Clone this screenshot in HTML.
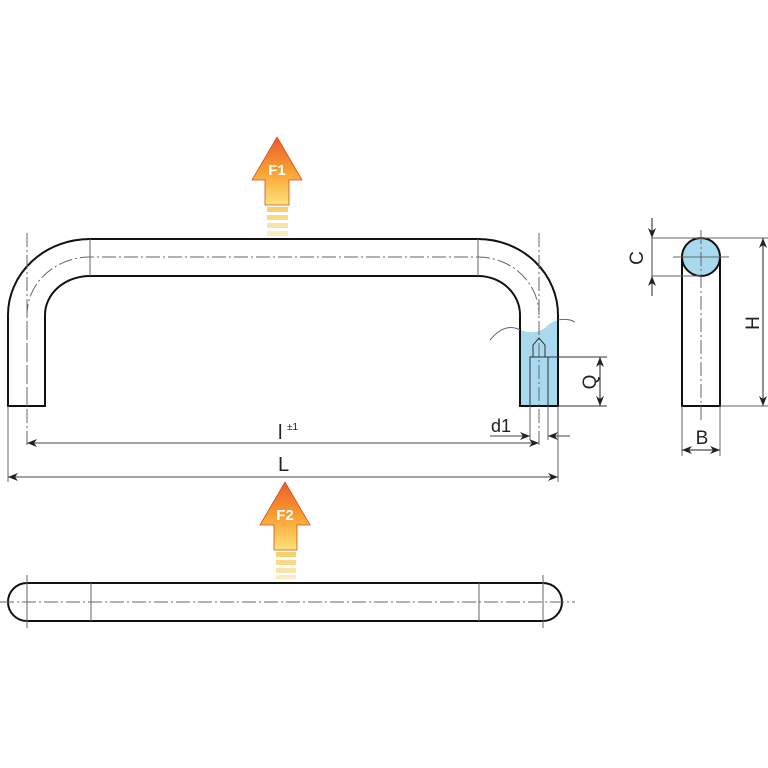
<!DOCTYPE html>
<html><head><style>body{margin:0;background:#fff}svg{display:block}text{font-family:"Liberation Sans",sans-serif;fill:#222}</style></head><body>
<svg width="768" height="768" viewBox="0 0 768 768" xmlns="http://www.w3.org/2000/svg">
<defs>
<linearGradient id="g" x1="0" y1="0" x2="0" y2="1">
<stop offset="0" stop-color="#ec5a2c"/><stop offset="0.5" stop-color="#f8a030"/><stop offset="1" stop-color="#fde27a"/></linearGradient>
<marker id="a" markerWidth="10" markerHeight="8" refX="10" refY="4" orient="auto-start-reverse" markerUnits="userSpaceOnUse"><path d="M0,0 L10,4 L0,8 L3,4z" fill="#222"/></marker>
</defs>
<path d="M520,330 Q535,335 545,328 Q550,322 558,320 L558,406 L520,406Z" fill="#a9d9ef"/>
<g fill="none" stroke="#111" stroke-width="2">
<path d="M8,406 L8,315 A82,76 0 0 1 90,239 L478,239 A80,76 0 0 1 558,315 L558,406 L520,406 L520,315 A42,39 0 0 0 478,276 L90,276 A45,39 0 0 0 45,315 L45,406 Z"/>
</g>
<g fill="none" stroke="#666" stroke-width="1">
<path d="M27,406 L27,315 A63,58 0 0 1 90,257 L478,257 A61,58 0 0 1 539,315" stroke-dasharray="14,3,2,3"/>
<line x1="27" y1="233" x2="27" y2="447" stroke-dasharray="14,3,2,3"/>
<line x1="539" y1="233" x2="539" y2="447" stroke-dasharray="14,3,2,3"/>
<line x1="90" y1="239" x2="90" y2="276"/><line x1="478" y1="239" x2="478" y2="276"/>
<line x1="8" y1="406" x2="8" y2="482"/><line x1="558" y1="406" x2="558" y2="482"/>
<line x1="530" y1="406" x2="530" y2="440"/><line x1="548" y1="406" x2="548" y2="440"/>
<path d="M490,340 Q505,322 520,330 M558,320 Q568,318 575,322"/>
</g>
<g fill="none" stroke="#333" stroke-width="1">
<path d="M530,406 L530,357 L548,357 L548,406"/>
<path d="M533,357 L533,345 L539,338 L545,345 L545,357"/>
<line x1="548" y1="357" x2="607" y2="357"/><line x1="558" y1="406" x2="607" y2="406"/>
</g>
<line x1="600" y1="357" x2="600" y2="406" stroke="#222" marker-start="url(#a)" marker-end="url(#a)"/>
<text font-size="19" transform="translate(596,382) rotate(-90)" text-anchor="middle">Q</text>
<line x1="27" y1="443" x2="539" y2="443" stroke="#444" marker-start="url(#a)" marker-end="url(#a)"/>
<line x1="8" y1="477" x2="558" y2="477" stroke="#444" marker-start="url(#a)" marker-end="url(#a)"/>
<text x="278" y="439" font-size="20">l</text><text x="287" y="430" font-size="10">±1</text>
<text x="278" y="471" font-size="20">L</text>
<text x="491" y="432" font-size="18">d1</text>
<line x1="490" y1="436" x2="530" y2="436" stroke="#444" marker-end="url(#a)"/>
<line x1="570" y1="436" x2="548" y2="436" stroke="#444" marker-end="url(#a)"/>
<g stroke="#111" stroke-width="2" fill="none">
<path d="M682,257 L682,406 L720,406 L720,257"/>
<circle cx="701" cy="257" r="19" fill="#a9d9ef"/>
</g>
<g stroke="#666" stroke-width="1" fill="none">
<line x1="701" y1="230" x2="701" y2="420" stroke-dasharray="14,3,2,3"/>
<line x1="673" y1="257" x2="729" y2="257"/>
<line x1="652" y1="238" x2="768" y2="238"/><line x1="652" y1="276" x2="700" y2="276"/>
<line x1="720" y1="406" x2="768" y2="406"/>
<line x1="682" y1="406" x2="682" y2="456"/><line x1="720" y1="406" x2="720" y2="456"/>
</g>
<line x1="763" y1="238" x2="763" y2="406" stroke="#222" marker-start="url(#a)" marker-end="url(#a)"/>
<line x1="652" y1="218" x2="652" y2="238" stroke="#222" marker-end="url(#a)"/>
<line x1="652" y1="296" x2="652" y2="276" stroke="#222" marker-end="url(#a)"/>
<line x1="652" y1="238" x2="652" y2="276" stroke="#444"/>
<line x1="682" y1="450" x2="720" y2="450" stroke="#222" marker-start="url(#a)" marker-end="url(#a)"/>
<text font-size="19" transform="translate(643,258) rotate(-90)" text-anchor="middle">C</text>
<text font-size="19" transform="translate(759,323) rotate(-90)" text-anchor="middle">H</text>
<text x="702" y="444" font-size="19" text-anchor="middle">B</text>
<rect x="8" y="583" width="554" height="38" rx="19" fill="none" stroke="#111" stroke-width="2"/>
<g stroke="#666" stroke-width="1">
<line x1="0" y1="602" x2="575" y2="602" stroke-dasharray="14,3,2,3"/>
<line x1="27" y1="575" x2="27" y2="628"/><line x1="543" y1="575" x2="543" y2="628"/>
<line x1="91" y1="583" x2="91" y2="621"/><line x1="479" y1="583" x2="479" y2="621"/>
</g>
<g>
<path d="M277,137 L302,180 L289,180 L289,205 L265,205 L265,180 L252,180Z" fill="url(#g)" stroke="#d0501e" stroke-width="0.8"/>
<g fill="#f7d06a"><rect x="267" y="207" width="21" height="5"/><rect x="267" y="215" width="21" height="5" opacity=".8"/><rect x="267" y="223" width="21" height="5" opacity=".6"/><rect x="267" y="231" width="21" height="5" opacity=".4"/></g>
<text x="277" y="175" font-size="15" font-weight="bold" text-anchor="middle" style="fill:#fff">F1</text>
<path d="M285,482 L310,525 L297,525 L297,550 L274,550 L274,525 L260,525Z" fill="url(#g)" stroke="#d0501e" stroke-width="0.8"/>
<g fill="#f7d06a"><rect x="276" y="552" width="20" height="5"/><rect x="276" y="560" width="20" height="5" opacity=".8"/><rect x="276" y="568" width="20" height="5" opacity=".6"/><rect x="276" y="575" width="20" height="4" opacity=".4"/></g>
<text x="285" y="520" font-size="15" font-weight="bold" text-anchor="middle" style="fill:#fff">F2</text>
</g>
</svg>
</body></html>
